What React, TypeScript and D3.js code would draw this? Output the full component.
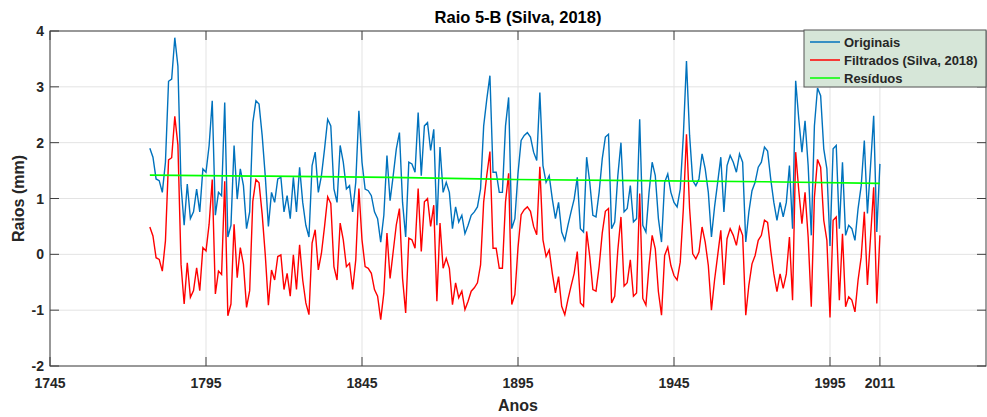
import React from "react";
import * as d3 from "d3";

const START_YEAR = 1777;
const originais = [
  1.90, 1.74, 1.35, 1.32, 1.11, 1.65, 3.10, 3.14, 3.88, 3.37,
  1.23, 0.52, 1.26, 0.64, 0.76, 1.17, 0.76, 1.53, 1.47, 1.95,
  2.75, 0.70, 1.11, 1.05, 2.72, 0.31, 0.52, 1.95, 0.99, 1.53,
  1.23, 0.46, 0.76, 2.36, 2.75, 2.69, 2.13, 1.40, 0.50,
  1.11, 0.93, 1.35, 1.38, 0.76, 1.05, 0.64, 1.38, 0.76, 1.56,
  0.93, 0.52, 0.31, 1.59, 1.83, 1.11, 1.41, 1.89, 2.42, 2.30,
  1.17, 0.93, 1.95, 1.65, 1.17, 1.23, 0.76, 1.29, 2.57, 1.65,
  1.17, 1.14, 1.05, 0.76, 0.64, 0.22, 0.70, 1.77, 0.96,
  1.41, 1.89, 2.18, 0.93, 0.31, 1.65, 1.62, 1.47, 2.54, 1.41,
  2.30, 2.36, 1.86, 2.24, 0.52, 1.92, 1.11, 1.29, 1.11, 0.46,
  0.85, 0.58, 0.70, 0.37, 0.52, 0.70, 0.76, 0.85, 1.17, 2.30,
  2.78, 3.20, 1.47, 1.47, 1.11, 1.11, 2.30, 2.81, 0.46, 0.64,
  1.45, 2.04, 2.13, 2.18, 2.10, 1.83, 1.68, 2.90, 1.59, 1.29,
  1.41, 0.99, 0.64, 0.93, 0.40, 0.25, 0.52, 0.76, 0.99, 1.38,
  0.46, 0.40, 1.74, 1.29, 0.70, 0.67, 1.11, 1.71, 2.10, 2.15,
  0.46, 0.58, 1.41, 2.00, 0.76, 0.82, 1.23, 0.58, 0.64, 2.42,
  0.52, 0.40, 1.11, 1.65, 1.41, 0.64, 0.22, 1.29, 1.44, 1.11,
  0.93, 0.85, 1.17, 2.13, 3.46, 2.13, 1.32, 1.23, 1.35, 1.80,
  1.53, 1.11, 0.31, 0.85, 1.29, 1.74, 0.76, 1.59, 1.77, 1.65,
  1.47, 1.80, 1.65, 0.22, 0.76, 1.14, 1.29, 1.56, 1.65, 1.92,
  1.85, 1.35, 0.93, 0.61, 0.93, 0.67, 0.93, 1.59, 0.46, 3.11,
  2.42, 1.83, 2.39, 1.59, 0.34, 2.30, 2.98, 2.84, 1.89, 1.53,
  0.15, 1.89, 1.95, 0.46, 1.65, 0.34, 0.52, 0.46, 0.25, 0.82,
  1.23, 2.04, 0.73, 1.59, 2.48, 0.40, 1.62,
];
const filtrados = [
  0.49, 0.33, -0.06, -0.09, -0.30, 0.24, 1.69, 1.73, 2.47, 1.96,
  -0.18, -0.89, -0.15, -0.77, -0.65, -0.24, -0.65, 0.12, 0.06, 0.54,
  1.34, -0.71, -0.30, -0.36, 1.31, -1.10, -0.89, 0.54, -0.42, 0.12,
  -0.18, -0.95, -0.65, 0.95, 1.34, 1.28, 0.72, -0.01, -0.91,
  -0.28, -0.46, -0.04, -0.01, -0.63, -0.34, -0.75, -0.01, -0.63, 0.17,
  -0.46, -0.87, -1.08, 0.20, 0.44, -0.28, 0.02, 0.50, 1.03, 0.91,
  -0.22, -0.46, 0.56, 0.26, -0.22, -0.16, -0.63, -0.10, 1.18, 0.26,
  -0.22, -0.25, -0.34, -0.63, -0.75, -1.17, -0.69, 0.38, -0.43,
  0.05, 0.53, 0.82, -0.43, -1.05, 0.29, 0.26, 0.11, 1.18, 0.05,
  0.94, 1.00, 0.50, 0.88, -0.84, 0.56, -0.25, -0.07, -0.25, -0.90,
  -0.51, -0.78, -0.66, -0.99, -0.84, -0.66, -0.60, -0.51, -0.19, 0.94,
  1.42, 1.84, 0.11, 0.11, -0.25, -0.25, 0.94, 1.45, -0.90, -0.72,
  0.12, 0.71, 0.80, 0.85, 0.77, 0.50, 0.35, 1.57, 0.26, -0.04,
  0.08, -0.34, -0.69, -0.40, -0.93, -1.08, -0.81, -0.57, -0.34, 0.05,
  -0.87, -0.93, 0.41, -0.04, -0.63, -0.66, -0.22, 0.38, 0.77, 0.82,
  -0.87, -0.75, 0.08, 0.67, -0.57, -0.51, -0.10, -0.75, -0.69, 1.09,
  -0.79, -0.91, -0.20, 0.34, 0.10, -0.67, -1.09, -0.02, 0.13, -0.20,
  -0.38, -0.46, -0.14, 0.82, 2.15, 0.82, 0.01, -0.08, 0.04, 0.49,
  0.22, -0.20, -1.00, -0.46, -0.02, 0.43, -0.55, 0.28, 0.46, 0.34,
  0.16, 0.49, 0.34, -1.09, -0.55, -0.17, -0.02, 0.25, 0.34, 0.61,
  0.57, 0.07, -0.35, -0.67, -0.35, -0.61, -0.35, 0.31, -0.82, 1.83,
  1.14, 0.55, 1.11, 0.31, -0.94, 1.02, 1.70, 1.56, 0.61, 0.25,
  -1.13, 0.61, 0.67, -0.82, 0.37, -0.94, -0.76, -0.82, -1.03, -0.46,
  -0.05, 0.76, -0.55, 0.31, 1.20, -0.88, 0.34,
];
const residuosAnos = [1777, 1815, 1854, 1894, 1934, 1974, 2011];
const residuosValores = [1.42, 1.40, 1.38, 1.34, 1.32, 1.30, 1.27];

const xTicks = [1745, 1795, 1845, 1895, 1945, 1995, 2011];
const yTicks = [-2, -1, 0, 1, 2, 3, 4];
const legendLabels = ["Originais", "Filtrados (Silva, 2018)", "Resíduos"];
const colors = ["#0072BD", "#FF0000", "#00FF00"];

const W = 987;
const H = 417;
const M = { left: 50, right: 986, top: 31, bottom: 366 };
const FONT = "'Liberation Sans', Arial, Helvetica, sans-serif";
const AX = "#404040";

export default function App() {
  const x = d3.scaleLinear().domain([1745, 2045]).range([M.left, M.right]);
  const y = d3.scaleLinear().domain([-2, 4]).range([M.bottom, M.top]);
  const line = d3
    .line<[number, number]>()
    .x((d) => x(d[0]))
    .y((d) => y(d[1]));

  const serieOrig: [number, number][] = originais.map((v, i) => [START_YEAR + i, v]);
  const serieFilt: [number, number][] = filtrados.map((v, i) => [START_YEAR + i, v]);
  const serieRes: [number, number][] = residuosValores.map((v, i) => [residuosAnos[i], v]);

  const tick = 9;
  const lx = 804;
  const ly = 30;

  return (
    <div style={{ position: "absolute", left: 0, top: 0 }}>
      <svg width={W} height={H} style={{ display: "block", background: "#fff" }}>
        {/* grid */}
        {xTicks.map((t) => (
          <line key={"gx" + t} x1={x(t)} x2={x(t)} y1={M.top} y2={M.bottom} stroke="#e3e3e3" strokeWidth={1} />
        ))}
        {yTicks.map((t) => (
          <line key={"gy" + t} x1={M.left} x2={M.right} y1={y(t)} y2={y(t)} stroke="#e3e3e3" strokeWidth={1} />
        ))}
        {/* ticks */}
        {xTicks.map((t) => (
          <g key={"tx" + t}>
            <line x1={x(t)} x2={x(t)} y1={M.bottom} y2={M.bottom - tick} stroke={AX} />
            <line x1={x(t)} x2={x(t)} y1={M.top} y2={M.top + tick} stroke={AX} />
          </g>
        ))}
        {yTicks.map((t) => (
          <g key={"ty" + t}>
            <line x1={M.left} x2={M.left + tick} y1={y(t)} y2={y(t)} stroke={AX} />
            <line x1={M.right} x2={M.right - tick} y1={y(t)} y2={y(t)} stroke={AX} />
          </g>
        ))}
        {/* series */}
        <path d={line(serieOrig) || ""} fill="none" stroke={colors[0]} strokeWidth={1.4} />
        <path d={line(serieFilt) || ""} fill="none" stroke={colors[1]} strokeWidth={1.4} />
        <path d={line(serieRes) || ""} fill="none" stroke={colors[2]} strokeWidth={1.7} />
        {/* box */}
        <rect x={M.left} y={M.top} width={M.right - M.left} height={M.bottom - M.top} fill="none" stroke={AX} strokeWidth={1} />
        {/* tick labels */}
        {xTicks.map((t) => (
          <text key={"lx" + t} x={x(t)} y={388} textAnchor="middle" fontFamily={FONT} fontWeight="bold" fontSize={14} fill="#262626">
            {t}
          </text>
        ))}
        {yTicks.map((t) => (
          <text key={"ly" + t} x={44} y={y(t) + 5} textAnchor="end" fontFamily={FONT} fontWeight="bold" fontSize={14} fill="#262626">
            {t}
          </text>
        ))}
        {/* axis labels */}
        <text x={(M.left + M.right) / 2} y={411} textAnchor="middle" fontFamily={FONT} fontWeight="bold" fontSize={16} fill="#262626">
          Anos
        </text>
        <text
          transform={`translate(24, ${(M.top + M.bottom) / 2}) rotate(-90)`}
          textAnchor="middle"
          fontFamily={FONT}
          fontWeight="bold"
          fontSize={16}
          fill="#262626"
        >
          Raios (mm)
        </text>
        {/* title */}
        <text x={(M.left + M.right) / 2} y={23} textAnchor="middle" fontFamily={FONT} fontWeight="bold" fontSize={16.5} fill="#000">
          Raio 5-B (Silva, 2018)
        </text>
        {/* legend */}
        <rect x={lx} y={ly} width={M.right - lx} height={57} fill="#d6e6d8" stroke="#555" strokeWidth={1} />
        {legendLabels.map((lab, i) => (
          <g key={lab}>
            <line x1={lx + 6} x2={lx + 36} y1={ly + 12 + i * 18} y2={ly + 12 + i * 18} stroke={colors[i]} strokeWidth={1.5} />
            <text x={lx + 40} y={ly + 17 + i * 18} fontFamily={FONT} fontWeight="bold" fontSize={13} fill="#262626">
              {lab}
            </text>
          </g>
        ))}
      </svg>
    </div>
  );
}
